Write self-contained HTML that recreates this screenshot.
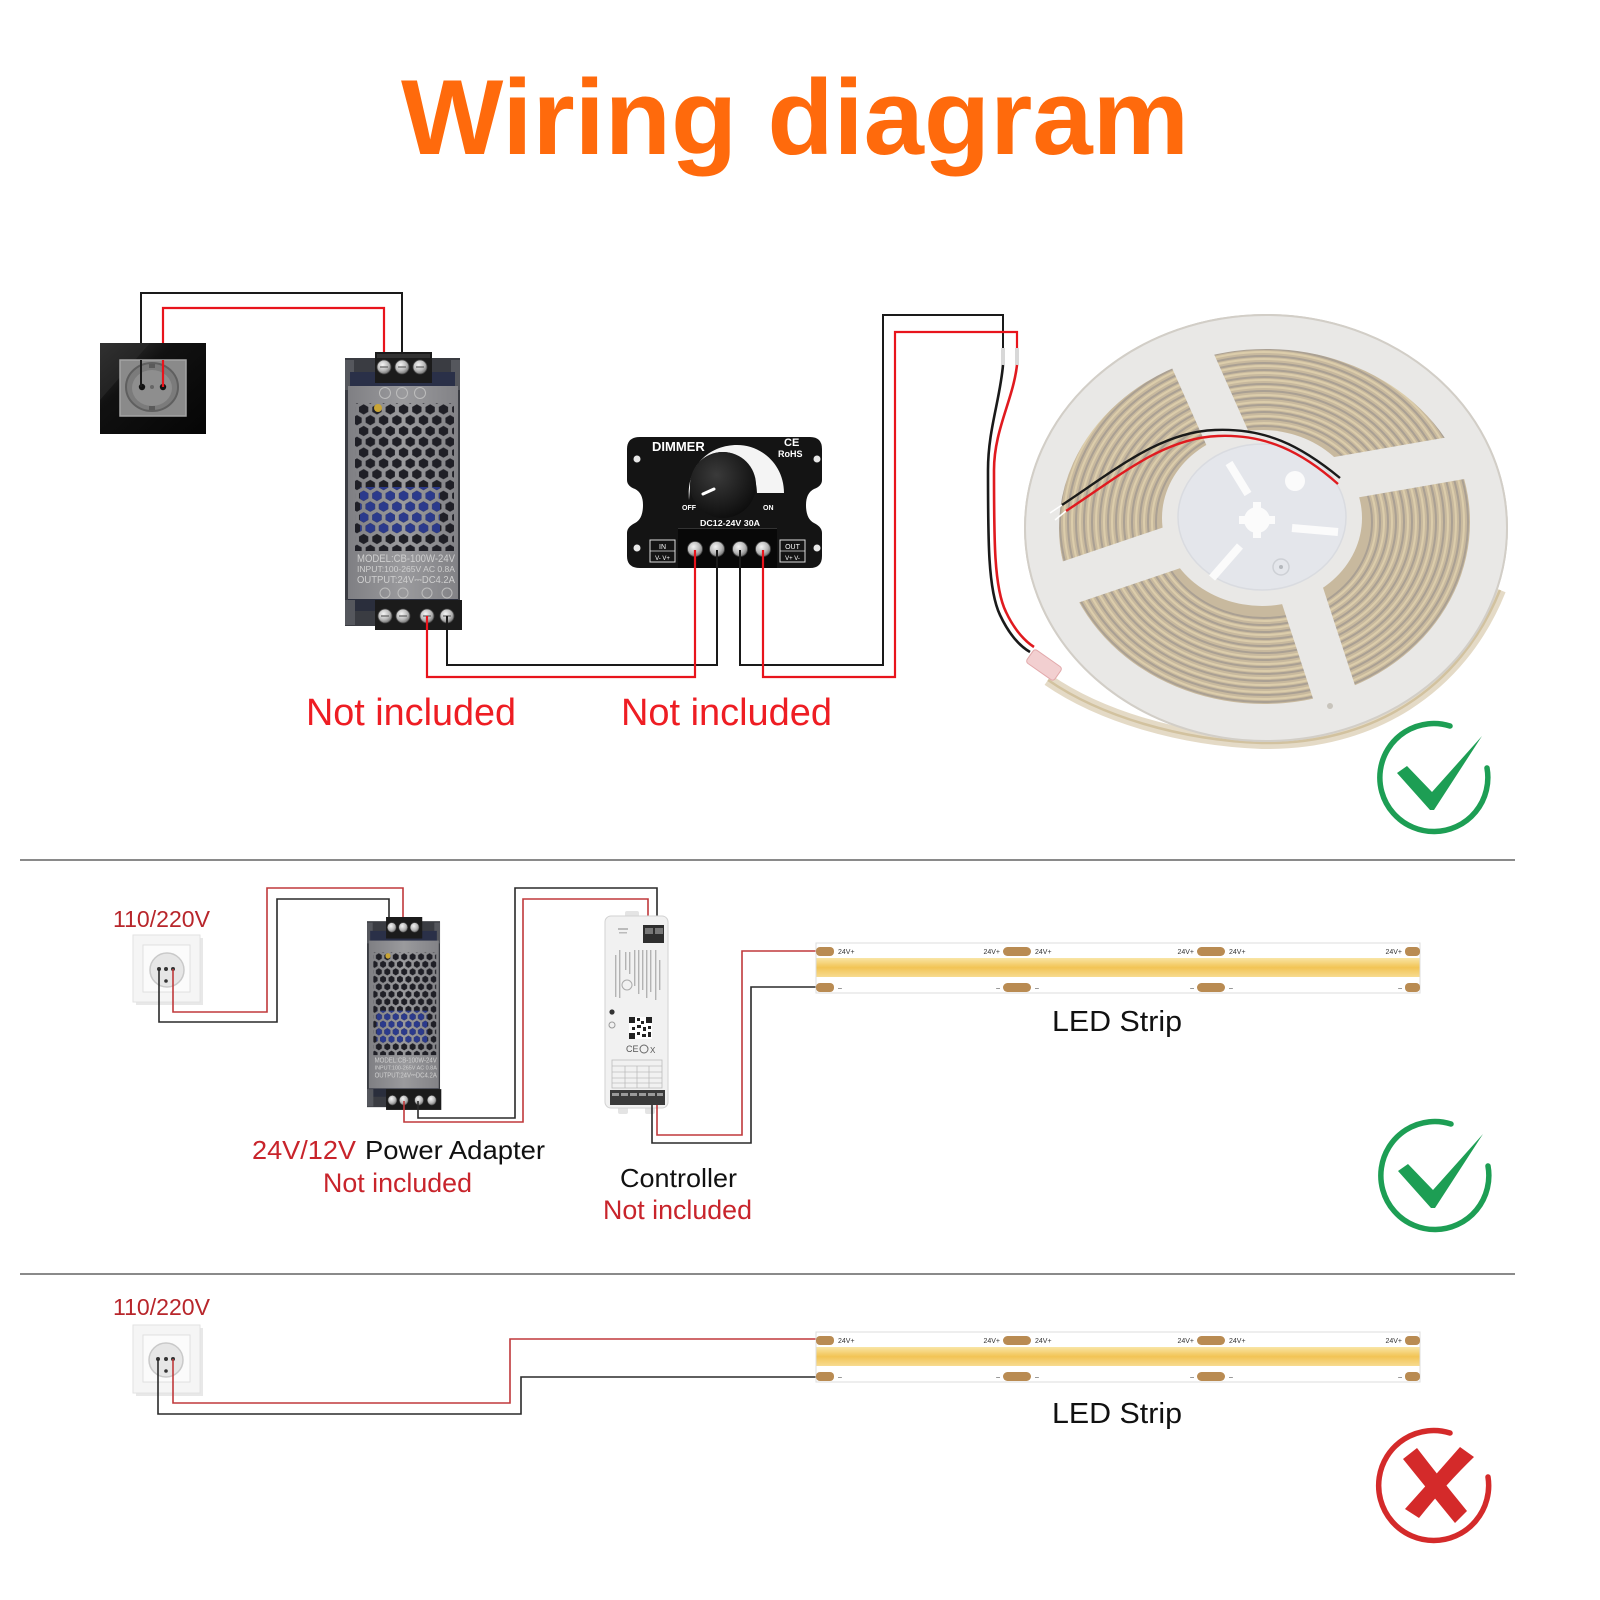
<!DOCTYPE html>
<html><head><meta charset="utf-8">
<style>
html,body{margin:0;padding:0;background:#fff;}
svg{display:block;}
text{font-family:"Liberation Sans",Arial,sans-serif;}
</style></head><body>
<svg width="1600" height="1600" viewBox="0 0 1600 1600" xmlns="http://www.w3.org/2000/svg">
<defs>
 <pattern id="hexD" patternUnits="userSpaceOnUse" x="357" y="404" width="13.3" height="21.6">
  <polygon points="6.65,0.2 11.3,2.9 11.3,7.9 6.65,10.6 2,7.9 2,2.9" fill="#1f1f26"/>
  <polygon points="0,11 4.65,13.7 4.65,18.7 0,21.4 -4.65,18.7 -4.65,13.7" fill="#1f1f26"/>
  <polygon points="13.3,11 17.95,13.7 17.95,18.7 13.3,21.4 8.65,18.7 8.65,13.7" fill="#1f1f26"/>
 </pattern>
 <pattern id="hexB" patternUnits="userSpaceOnUse" x="357" y="404" width="13.3" height="21.6">
  <polygon points="6.65,0.2 11.3,2.9 11.3,7.9 6.65,10.6 2,7.9 2,2.9" fill="#2b3a8c"/>
  <polygon points="0,11 4.65,13.7 4.65,18.7 0,21.4 -4.65,18.7 -4.65,13.7" fill="#2b3a8c"/>
  <polygon points="13.3,11 17.95,13.7 17.95,18.7 13.3,21.4 8.65,18.7 8.65,13.7" fill="#2b3a8c"/>
 </pattern>
 <radialGradient id="screw" cx="0.4" cy="0.35" r="0.7">
  <stop offset="0" stop-color="#f4f4f4"/><stop offset="0.6" stop-color="#b8b8b8"/><stop offset="1" stop-color="#6a6a6a"/>
 </radialGradient>
 <linearGradient id="plate" x1="0" y1="0" x2="1" y2="0">
  <stop offset="0" stop-color="#7f7f83"/><stop offset="0.5" stop-color="#9a9a9d"/><stop offset="1" stop-color="#828286"/>
 </linearGradient>
 <linearGradient id="yel" x1="0" y1="0" x2="0" y2="1">
  <stop offset="0" stop-color="#f9e5a6"/><stop offset="0.5" stop-color="#f2c455"/><stop offset="1" stop-color="#f7db90"/>
 </linearGradient>
 <radialGradient id="knob" cx="0.4" cy="0.35" r="0.7">
  <stop offset="0" stop-color="#3a3a3a"/><stop offset="1" stop-color="#0c0c0c"/>
 </radialGradient>
 <linearGradient id="glass" x1="0" y1="0" x2="1" y2="1">
  <stop offset="0" stop-color="#3a3a3a"/><stop offset="0.35" stop-color="#111"/><stop offset="1" stop-color="#050505"/>
 </linearGradient>
 <clipPath id="reelclip"><ellipse cx="1266" cy="528" rx="241" ry="213"/></clipPath>
</defs>

<rect width="1600" height="1600" fill="#fff"/>

<!-- Title -->
<text x="401" y="154" font-size="107" font-weight="bold" fill="#ff6a0c" textLength="788" lengthAdjust="spacingAndGlyphs">Wiring diagram</text>

<!-- ================= SECTION 1 ================= -->
<path d="M141,387 V293 H402 V367" fill="none" stroke="#1a1a1a" stroke-width="2"/>
<path d="M163,387 V308 H384 V367" fill="none" stroke="#e8141c" stroke-width="2.2"/>

<rect x="100" y="343" width="106" height="91" fill="url(#glass)"/>
<polygon points="100,343 150,343 100,400" fill="#2c2c2c" opacity="0.6"/>
<rect x="120" y="360" width="66" height="56" fill="#8a8a8a" stroke="#a5a5a5" stroke-width="1.5"/>
<ellipse cx="152" cy="387" rx="26" ry="24" fill="#7b7b7b" stroke="#5f5f5f" stroke-width="2"/>
<ellipse cx="152" cy="388" rx="20" ry="18" fill="#8e8e8e"/>
<circle cx="142" cy="387" r="3.2" fill="#111"/>
<circle cx="163" cy="387" r="3.2" fill="#111"/>
<circle cx="152" cy="387" r="2" fill="#666"/>
<rect x="149" y="364" width="6" height="4" fill="#5a5a5a"/>
<rect x="149" y="406" width="6" height="4" fill="#5a5a5a"/>
<path d="M141,387 V360" stroke="#1a1a1a" stroke-width="2"/>
<path d="M163,387 V360" stroke="#e8141c" stroke-width="2.2"/>

<!-- PSU 1 -->
<g>
 <rect x="345" y="358" width="115" height="268" fill="#3a3c42"/>
 <rect x="345" y="360" width="9" height="30" fill="#55575d"/>
 <rect x="451" y="360" width="9" height="30" fill="#55575d"/>
 <rect x="350" y="372" width="105" height="16" fill="#2a3048"/>
 <rect x="375" y="352" width="57" height="31" fill="#1b1b1b"/>
 <rect x="377" y="354" width="53" height="4" fill="#333"/>
 <circle cx="384" cy="367" r="7" fill="url(#screw)" stroke="#444" stroke-width="0.8"/>
 <circle cx="402" cy="367" r="7" fill="url(#screw)" stroke="#444" stroke-width="0.8"/>
 <circle cx="420" cy="367" r="7" fill="url(#screw)" stroke="#444" stroke-width="0.8"/>
 <path d="M380,367 h8 M398,367 h8 M416,367 h8" stroke="#666" stroke-width="1.2"/>
 <rect x="348" y="386" width="110" height="214" fill="url(#plate)"/>
 <circle cx="385" cy="393" r="5.5" fill="none" stroke="#bdbdbd" stroke-width="1"/>
 <circle cx="402" cy="393" r="5.5" fill="none" stroke="#bdbdbd" stroke-width="1"/>
 <circle cx="420" cy="393" r="5.5" fill="none" stroke="#bdbdbd" stroke-width="1"/>
 <rect x="355" y="403" width="99" height="148" fill="url(#hexD)"/>
 <rect x="360" y="487" width="80" height="46" fill="url(#hexB)"/>
 <circle cx="378" cy="408" r="4" fill="#c9a536"/>
 <text x="357" y="562" font-size="11" fill="#cfcfcf" textLength="98" lengthAdjust="spacingAndGlyphs">MODEL:CB-100W-24V</text>
 <text x="357" y="572" font-size="8" fill="#cfcfcf" textLength="98" lengthAdjust="spacingAndGlyphs">INPUT:100-265V AC 0.8A</text>
 <text x="357" y="583" font-size="10" fill="#cfcfcf" textLength="98" lengthAdjust="spacingAndGlyphs">OUTPUT:24V⎓DC4.2A</text>
 <circle cx="385" cy="593" r="5" fill="none" stroke="#bdbdbd" stroke-width="1"/>
 <circle cx="403" cy="593" r="5" fill="none" stroke="#bdbdbd" stroke-width="1"/>
 <circle cx="427" cy="593" r="5" fill="none" stroke="#bdbdbd" stroke-width="1"/>
 <circle cx="447" cy="593" r="5" fill="none" stroke="#bdbdbd" stroke-width="1"/>
 <rect x="348" y="599" width="110" height="12" fill="#2a2e3c"/>
 <rect x="345" y="600" width="10" height="25" fill="#55575d"/>
 <rect x="375" y="600" width="87" height="30" fill="#1b1b1b"/>
 <circle cx="385" cy="616" r="7" fill="url(#screw)" stroke="#444" stroke-width="0.8"/>
 <circle cx="403" cy="616" r="7" fill="url(#screw)" stroke="#444" stroke-width="0.8"/>
 <circle cx="427" cy="616" r="7" fill="url(#screw)" stroke="#444" stroke-width="0.8"/>
 <circle cx="447" cy="616" r="7" fill="url(#screw)" stroke="#444" stroke-width="0.8"/>
 <path d="M381,616 h8 M399,616 h8 M423,616 h8 M443,616 h8" stroke="#666" stroke-width="1.2"/>
</g>

<path d="M447,616 V665 H717 V550" fill="none" stroke="#1a1a1a" stroke-width="2"/>
<path d="M427,616 V677 H695 V550" fill="none" stroke="#e8141c" stroke-width="2.2"/>
<path d="M740,550 V665 H883 V315 H1003 V350" fill="none" stroke="#1a1a1a" stroke-width="2"/>
<path d="M763,550 V677 H895 V332 H1017 V350" fill="none" stroke="#e8141c" stroke-width="2.2"/>

<!-- Dimmer -->
<path d="M640,437 H810 Q822,437 822,449 V480 Q822,486 814,489 Q806,493 806,505 Q806,519 814,523 Q822,527 822,533 V556 Q822,568 810,568 H640 Q627,568 627,556 V533 Q627,527 635,523 Q643,519 643,505 Q643,493 635,489 Q627,486 627,480 V449 Q627,437 640,437 Z" fill="#141414"/>
<circle cx="637" cy="459" r="3.5" fill="#e8e8e8"/>
<circle cx="637" cy="548" r="3.5" fill="#e8e8e8"/>
<circle cx="817" cy="459" r="3.5" fill="#e8e8e8"/>
<circle cx="817" cy="548" r="3.5" fill="#e8e8e8"/>
<text x="652" y="451" font-size="13" font-weight="bold" fill="#fff">DIMMER</text>
<text x="784" y="446" font-size="11" font-weight="bold" fill="#fff">CE</text>
<text x="778" y="457" font-size="9" font-weight="bold" fill="#fff">RoHS</text>
<path d="M689,500 C686,465 710,445 737,445 C762,445 784,465 784,493 L757,493 C757,472 742,452 723,452 C703,452 690,468 690,488 Z" fill="#f4f4f4"/>
<circle cx="723" cy="485" r="33" fill="url(#knob)"/>
<line x1="703" y1="494" x2="714" y2="489" stroke="#fff" stroke-width="3" stroke-linecap="round"/>
<text x="682" y="510" font-size="7" font-weight="bold" fill="#fff">OFF</text>
<text x="763" y="510" font-size="7" font-weight="bold" fill="#fff">ON</text>
<text x="700" y="526" font-size="8.5" font-weight="bold" fill="#fff" textLength="60" lengthAdjust="spacingAndGlyphs">DC12-24V 30A</text>
<rect x="678" y="528" width="99" height="40" fill="#080808"/>
<line x1="678" y1="528.5" x2="777" y2="528.5" stroke="#333" stroke-width="1"/>
<g stroke="#444" stroke-width="0.8">
 <circle cx="695" cy="549" r="7.5" fill="url(#screw)"/>
 <circle cx="717" cy="549" r="7.5" fill="url(#screw)"/>
 <circle cx="740" cy="549" r="7.5" fill="url(#screw)"/>
 <circle cx="763" cy="549" r="7.5" fill="url(#screw)"/>
</g>
<rect x="650" y="540" width="25" height="22" fill="none" stroke="#ddd" stroke-width="1"/>
<line x1="650" y1="551" x2="675" y2="551" stroke="#ddd" stroke-width="0.8"/>
<text x="662.5" y="549" font-size="7" fill="#fff" text-anchor="middle">IN</text>
<text x="662.5" y="560" font-size="6" fill="#fff" text-anchor="middle">V- V+</text>
<rect x="780" y="540" width="25" height="22" fill="none" stroke="#ddd" stroke-width="1"/>
<line x1="780" y1="551" x2="805" y2="551" stroke="#ddd" stroke-width="0.8"/>
<text x="792.5" y="549" font-size="7" fill="#fff" text-anchor="middle">OUT</text>
<text x="792.5" y="560" font-size="6" fill="#fff" text-anchor="middle">V+ V-</text>
<path d="M695,550 V568 M763,550 V568" stroke="#e8141c" stroke-width="2.2"/>
<path d="M717,550 V568 M740,550 V568" stroke="#1a1a1a" stroke-width="2"/>

<!-- Reel -->
<path d="M1048,680 C1100,716 1180,740 1262,743 C1370,745 1460,690 1500,590" fill="none" stroke="#e4dac6" stroke-width="12"/>
<path d="M1048,680 C1100,716 1180,740 1262,743 C1370,745 1460,690 1500,590" fill="none" stroke="#d2c29f" stroke-width="2.5"/>
<ellipse cx="1266" cy="528" rx="241" ry="213" fill="#e9e8e6" stroke="#d2cec7" stroke-width="2"/>
<g clip-path="url(#reelclip)">
 <ellipse cx="1264" cy="522" rx="206" ry="182" fill="#c8b99e"/>
 <g fill="none" stroke-width="2">
  <ellipse cx="1264" cy="522" rx="204" ry="180" stroke="#aaa093"/>
  <ellipse cx="1264" cy="522" rx="200" ry="177" stroke="#dccdab"/>
  <ellipse cx="1264" cy="522" rx="196" ry="173" stroke="#aaa093"/>
  <ellipse cx="1264" cy="522" rx="192" ry="170" stroke="#dccdab"/>
  <ellipse cx="1264" cy="522" rx="188" ry="166" stroke="#aaa093"/>
  <ellipse cx="1264" cy="522" rx="184" ry="163" stroke="#dccdab"/>
  <ellipse cx="1264" cy="522" rx="180" ry="159" stroke="#aaa093"/>
  <ellipse cx="1264" cy="522" rx="176" ry="156" stroke="#dccdab"/>
  <ellipse cx="1264" cy="522" rx="172" ry="152" stroke="#aaa093"/>
  <ellipse cx="1264" cy="522" rx="168" ry="149" stroke="#dccdab"/>
  <ellipse cx="1264" cy="522" rx="164" ry="145" stroke="#aaa093"/>
  <ellipse cx="1264" cy="522" rx="160" ry="142" stroke="#dccdab"/>
  <ellipse cx="1264" cy="522" rx="156" ry="138" stroke="#aaa093"/>
  <ellipse cx="1264" cy="522" rx="152" ry="135" stroke="#dccdab"/>
  <ellipse cx="1264" cy="522" rx="148" ry="131" stroke="#aaa093"/>
  <ellipse cx="1264" cy="522" rx="144" ry="127" stroke="#dccdab"/>
  <ellipse cx="1264" cy="522" rx="140" ry="124" stroke="#aaa093"/>
  <ellipse cx="1264" cy="522" rx="136" ry="120" stroke="#dccdab"/>
  <ellipse cx="1264" cy="522" rx="132" ry="117" stroke="#aaa093"/>
  <ellipse cx="1264" cy="522" rx="128" ry="113" stroke="#dccdab"/>
  <ellipse cx="1264" cy="522" rx="124" ry="110" stroke="#aaa093"/>
  <ellipse cx="1264" cy="522" rx="120" ry="106" stroke="#dccdab"/>
  <ellipse cx="1264" cy="522" rx="116" ry="103" stroke="#aaa093"/>
  <ellipse cx="1264" cy="522" rx="112" ry="99" stroke="#dccdab"/>
  <ellipse cx="1264" cy="522" rx="108" ry="96" stroke="#aaa093"/>
 </g>
 <ellipse cx="1262" cy="518" rx="100" ry="88" fill="#e9e8e6"/>
 <ellipse cx="1266" cy="528" rx="225" ry="197" fill="none" stroke="#e9e8e6" stroke-width="36"/>
 <g stroke="#e9e8e6" stroke-width="44" stroke-linecap="round">
  <line x1="1255" y1="500" x2="1168" y2="305"/>
  <line x1="1290" y1="487" x2="1520" y2="447"/>
  <line x1="1281" y1="530" x2="1353" y2="750"/>
  <line x1="1230" y1="528" x2="1000" y2="606"/>
 </g>
</g>
<ellipse cx="1266" cy="528" rx="241" ry="213" fill="none" stroke="#d2cec7" stroke-width="2"/>
<ellipse cx="1262" cy="517" rx="84" ry="73" fill="#e4e6eb" stroke="#d9dbe0" stroke-width="1.5"/>
<g stroke="#fbfbfb" stroke-width="8" stroke-linecap="butt">
 <line x1="1229" y1="463" x2="1248" y2="494"/>
 <line x1="1292" y1="528" x2="1338" y2="532"/>
 <line x1="1212" y1="578" x2="1240" y2="546"/>
</g>
<circle cx="1257" cy="520" r="13" fill="#fbfbfb"/>
<rect x="1253" y="502" width="8" height="36" fill="#fbfbfb"/>
<rect x="1239" y="516" width="36" height="8" fill="#fbfbfb"/>
<circle cx="1295" cy="481" r="10" fill="#fbfbfb"/>
<circle cx="1281" cy="567" r="8" fill="none" stroke="#cdd0d5" stroke-width="1.5"/>
<circle cx="1281" cy="567" r="2" fill="#b5b8bd"/>
<circle cx="1330" cy="706" r="3" fill="#c8c4bc"/>

<path d="M1062,505 C1115,470 1160,432 1215,430 C1265,428 1300,445 1340,478" fill="none" stroke="#1a1a1a" stroke-width="2.4"/>
<path d="M1066,511 C1118,477 1163,438 1218,436 C1266,434 1302,452 1338,484" fill="none" stroke="#e01a1f" stroke-width="2.4"/>
<line x1="1050" y1="513" x2="1062" y2="505" stroke="#fff" stroke-width="1.5"/>
<line x1="1055" y1="520" x2="1066" y2="511" stroke="#fff" stroke-width="1.5"/>

<rect x="1001" y="348" width="4" height="17" fill="#d8d8d8"/>
<rect x="1015" y="348" width="4" height="17" fill="#d8d8d8"/>
<path d="M1003,365 C1000,400 988,430 988,470 C988,540 988,590 1000,615 C1008,632 1018,645 1030,652" fill="none" stroke="#1a1a1a" stroke-width="2.6"/>
<path d="M1017,365 C1013,400 994,430 994,470 C994,540 994,588 1006,612 C1013,627 1023,640 1034,647" fill="none" stroke="#e01a1f" stroke-width="2.6"/>
<rect x="1027" y="657" width="34" height="16" rx="3" fill="#f2cfd0" stroke="#e2a9ab" stroke-width="1" transform="rotate(35 1044 665)"/>

<text x="306" y="725" font-size="38" fill="#ee1d23" textLength="210" lengthAdjust="spacingAndGlyphs">Not included</text>
<text x="621" y="725" font-size="38" fill="#ee1d23" textLength="211" lengthAdjust="spacingAndGlyphs">Not included</text>

<path d="M1487,768 A54 54 0 1 1 1450,726" fill="none" stroke="#1d9e54" stroke-width="5.5" stroke-linecap="round"/>
<polygon points="1397,773 1407,766 1432,792 1482,736 1434,810 1430,810" fill="#1d9e54"/>

<line x1="20" y1="860" x2="1515" y2="860" stroke="#8a8a8a" stroke-width="2"/>
<line x1="20" y1="1274" x2="1515" y2="1274" stroke="#8a8a8a" stroke-width="2"/>

<!-- ================= SECTION 2 ================= -->
<text x="113" y="927" font-size="23" fill="#b8262b" textLength="97" lengthAdjust="spacingAndGlyphs">110/220V</text>
<rect x="136" y="938" width="67" height="67" fill="#d9d9d9" opacity="0.6"/>
<rect x="133" y="935" width="67" height="67" fill="#f5f5f5" stroke="#e2e2e2" stroke-width="1"/>
<rect x="143" y="945" width="47" height="47" fill="#fbfbfb" stroke="#e0e0e0" stroke-width="1"/>
<circle cx="167" cy="970" r="17" fill="#e6e6e6" stroke="#c9c9c9" stroke-width="1.5"/>
<circle cx="159" cy="969" r="2" fill="#333"/>
<circle cx="166" cy="969" r="2" fill="#333"/>
<circle cx="173" cy="969" r="2" fill="#333"/>
<circle cx="166" cy="981" r="1.8" fill="#333"/>

<path d="M159,969 V1022 H277 V899 H389 V927" fill="none" stroke="#2a2a2a" stroke-width="1.6"/>
<path d="M173,969 V1012 H267 V888 H403 V927" fill="none" stroke="#c0393b" stroke-width="1.6"/>

<g transform="translate(367,917) scale(0.635,0.694) translate(-345,-352)">
 <rect x="345" y="358" width="115" height="268" fill="#3a3c42"/>
 <rect x="345" y="360" width="9" height="30" fill="#55575d"/>
 <rect x="451" y="360" width="9" height="30" fill="#55575d"/>
 <rect x="350" y="372" width="105" height="16" fill="#2a3048"/>
 <rect x="375" y="352" width="57" height="31" fill="#1b1b1b"/>
 <circle cx="384" cy="367" r="7" fill="url(#screw)" stroke="#444" stroke-width="0.8"/>
 <circle cx="402" cy="367" r="7" fill="url(#screw)" stroke="#444" stroke-width="0.8"/>
 <circle cx="420" cy="367" r="7" fill="url(#screw)" stroke="#444" stroke-width="0.8"/>
 <rect x="348" y="386" width="110" height="214" fill="url(#plate)"/>
 <rect x="355" y="403" width="99" height="148" fill="url(#hexD)"/>
 <rect x="360" y="487" width="80" height="46" fill="url(#hexB)"/>
 <circle cx="378" cy="408" r="4" fill="#c9a536"/>
 <text x="357" y="562" font-size="11" fill="#cfcfcf" textLength="98" lengthAdjust="spacingAndGlyphs">MODEL:CB-100W-24V</text>
 <text x="357" y="572" font-size="8" fill="#cfcfcf" textLength="98" lengthAdjust="spacingAndGlyphs">INPUT:100-265V AC 0.8A</text>
 <text x="357" y="583" font-size="10" fill="#cfcfcf" textLength="98" lengthAdjust="spacingAndGlyphs">OUTPUT:24V⎓DC4.2A</text>
 <rect x="348" y="599" width="110" height="12" fill="#2a2e3c"/>
 <rect x="345" y="600" width="10" height="25" fill="#55575d"/>
 <rect x="375" y="600" width="87" height="30" fill="#1b1b1b"/>
 <circle cx="385" cy="616" r="7" fill="url(#screw)" stroke="#444" stroke-width="0.8"/>
 <circle cx="403" cy="616" r="7" fill="url(#screw)" stroke="#444" stroke-width="0.8"/>
 <circle cx="427" cy="616" r="7" fill="url(#screw)" stroke="#444" stroke-width="0.8"/>
 <circle cx="447" cy="616" r="7" fill="url(#screw)" stroke="#444" stroke-width="0.8"/>
</g>

<path d="M418,1101 V1118 H515 V888 H657 V930" fill="none" stroke="#2a2a2a" stroke-width="1.6"/>
<path d="M404,1101 V1122 H523 V899 H648 V930" fill="none" stroke="#c0393b" stroke-width="1.6"/>

<!-- Controller -->
<rect x="625" y="911" width="14" height="8" rx="2" fill="#e4e4e4"/>
<rect x="618" y="1105" width="10" height="9" rx="2" fill="#e4e4e4"/>
<rect x="645" y="1105" width="10" height="9" rx="2" fill="#e4e4e4"/>
<rect x="605" y="916" width="63" height="192" rx="6" fill="#f1f1f1" stroke="#d2d2d2" stroke-width="1"/>
<rect x="643" y="925" width="21" height="18" fill="#2e2e2e"/>
<rect x="645" y="928" width="8" height="6" fill="#777"/>
<rect x="655" y="928" width="8" height="6" fill="#777"/>
<rect x="618" y="928" width="10" height="2" fill="#bbb"/>
<rect x="619" y="932" width="8" height="1.5" fill="#bbb"/>
<g fill="#b3b3b3">
 <rect x="615" y="955" width="1.4" height="42"/>
 <rect x="619" y="950" width="1.4" height="48"/>
 <rect x="625" y="952" width="1.4" height="18"/>
 <rect x="629" y="952" width="1.4" height="22"/>
 <rect x="634" y="950" width="1.4" height="36"/>
 <rect x="638" y="950" width="1.4" height="44"/>
 <rect x="642" y="950" width="1.4" height="40"/>
 <rect x="646" y="950" width="1.4" height="48"/>
 <rect x="650" y="950" width="1.4" height="42"/>
 <rect x="655" y="950" width="1.4" height="50"/>
 <rect x="659" y="960" width="1.4" height="30"/>
</g>
<circle cx="627" cy="985" r="5" fill="none" stroke="#aaa" stroke-width="1"/>
<circle cx="612" cy="1012" r="2.6" fill="#333"/>
<circle cx="612" cy="1025" r="3" fill="none" stroke="#999" stroke-width="1"/>
<rect x="629" y="1017" width="23" height="22" fill="#fff"/>
<g fill="#222">
 <rect x="629" y="1017" width="6" height="6"/><rect x="646" y="1017" width="6" height="6"/><rect x="629" y="1033" width="6" height="6"/>
 <rect x="637" y="1018" width="3" height="3"/><rect x="641" y="1021" width="3" height="3"/><rect x="637" y="1025" width="4" height="3"/>
 <rect x="643" y="1027" width="3" height="4"/><rect x="648" y="1026" width="3" height="3"/><rect x="637" y="1032" width="3" height="3"/>
 <rect x="642" y="1034" width="4" height="3"/><rect x="648" y="1032" width="3" height="5"/><rect x="632" y="1027" width="3" height="3"/>
</g>
<text x="626" y="1052" font-size="9" fill="#555">CE</text>
<circle cx="644" cy="1049" r="4" fill="none" stroke="#666" stroke-width="1"/>
<text x="650" y="1053" font-size="8" fill="#555">X</text>
<g stroke="#bcbcbc" stroke-width="0.8">
 <rect x="612" y="1060" width="50" height="28" fill="none"/>
 <line x1="612" y1="1066" x2="662" y2="1066"/><line x1="612" y1="1072" x2="662" y2="1072"/>
 <line x1="612" y1="1078" x2="662" y2="1078"/><line x1="612" y1="1083" x2="662" y2="1083"/>
 <line x1="625" y1="1066" x2="625" y2="1088"/><line x1="637" y1="1066" x2="637" y2="1088"/><line x1="649" y1="1066" x2="649" y2="1088"/>
</g>
<rect x="610" y="1090" width="55" height="15" fill="#3a3a3a"/>
<g fill="#9a9a9a">
 <rect x="612" y="1093" width="7" height="3"/><rect x="621" y="1093" width="7" height="3"/><rect x="630" y="1093" width="7" height="3"/>
 <rect x="639" y="1093" width="7" height="3"/><rect x="648" y="1093" width="7" height="3"/><rect x="657" y="1093" width="6" height="3"/>
</g>

<path d="M652,1105 V1143 H751 V987 H816" fill="none" stroke="#2a2a2a" stroke-width="1.6"/>
<path d="M657,1105 V1135 H742 V951 H816" fill="none" stroke="#c0393b" stroke-width="1.6"/>

<!-- LED strip 2 -->
<g>
 <rect x="816" y="943" width="604" height="50" fill="#fff" stroke="#dcdcdc" stroke-width="1"/>
 <rect x="816.5" y="958" width="603" height="19" fill="url(#yel)"/>
 <g fill="#b98b52">
  <rect x="816" y="947" width="18" height="9" rx="4"/><rect x="1003" y="947" width="28" height="9" rx="4.5"/>
  <rect x="1197" y="947" width="28" height="9" rx="4.5"/><rect x="1405" y="947" width="15" height="9" rx="4"/>
  <rect x="816" y="983" width="18" height="9" rx="4"/><rect x="1003" y="983" width="28" height="9" rx="4.5"/>
  <rect x="1197" y="983" width="28" height="9" rx="4.5"/><rect x="1405" y="983" width="15" height="9" rx="4"/>
 </g>
 <g font-size="7" fill="#333">
  <text x="838" y="954">24V+</text><text x="1000" y="954" text-anchor="end">24V+</text>
  <text x="1035" y="954">24V+</text><text x="1194" y="954" text-anchor="end">24V+</text>
  <text x="1229" y="954">24V+</text><text x="1402" y="954" text-anchor="end">24V+</text>
  <text x="838" y="990">–</text><text x="1000" y="990" text-anchor="end">–</text>
  <text x="1035" y="990">–</text><text x="1194" y="990" text-anchor="end">–</text>
  <text x="1229" y="990">–</text><text x="1402" y="990" text-anchor="end">–</text>
 </g>
</g>
<text x="1052" y="1031" font-size="29" fill="#111" textLength="130" lengthAdjust="spacingAndGlyphs">LED Strip</text>

<text x="252" y="1159" font-size="26" fill="#c8242b" textLength="104" lengthAdjust="spacingAndGlyphs">24V/12V</text>
<text x="365" y="1159" font-size="26" fill="#111" textLength="180" lengthAdjust="spacingAndGlyphs">Power Adapter</text>
<text x="323" y="1192" font-size="27" fill="#c8242b" textLength="149" lengthAdjust="spacingAndGlyphs">Not included</text>
<text x="620" y="1187" font-size="26" fill="#111" textLength="117" lengthAdjust="spacingAndGlyphs">Controller</text>
<text x="603" y="1219" font-size="27" fill="#c8242b" textLength="149" lengthAdjust="spacingAndGlyphs">Not included</text>

<path d="M1488,1166 A54 54 0 1 1 1451,1124" fill="none" stroke="#1d9e54" stroke-width="5.5" stroke-linecap="round"/>
<polygon points="1398,1171 1408,1164 1433,1190 1483,1134 1435,1208 1431,1208" fill="#1d9e54"/>

<!-- ================= SECTION 3 ================= -->
<text x="113" y="1315" font-size="23" fill="#b8262b" textLength="97" lengthAdjust="spacingAndGlyphs">110/220V</text>
<rect x="136" y="1328" width="67" height="68" fill="#d9d9d9" opacity="0.6"/>
<rect x="133" y="1325" width="67" height="68" fill="#f5f5f5" stroke="#e2e2e2" stroke-width="1"/>
<rect x="143" y="1335" width="47" height="47" fill="#fbfbfb" stroke="#e0e0e0" stroke-width="1"/>
<circle cx="166" cy="1360" r="17" fill="#e6e6e6" stroke="#c9c9c9" stroke-width="1.5"/>
<circle cx="158" cy="1359" r="2" fill="#333"/>
<circle cx="166" cy="1359" r="2" fill="#333"/>
<circle cx="173" cy="1359" r="2" fill="#333"/>
<circle cx="166" cy="1371" r="1.8" fill="#333"/>

<path d="M158,1359 V1414 H521 V1377 H816" fill="none" stroke="#2a2a2a" stroke-width="1.6"/>
<path d="M173,1359 V1403 H510 V1339 H816" fill="none" stroke="#c0393b" stroke-width="1.6"/>

<g>
 <rect x="816" y="1332" width="604" height="50" fill="#fff" stroke="#dcdcdc" stroke-width="1"/>
 <rect x="816.5" y="1347" width="603" height="19" fill="url(#yel)"/>
 <g fill="#b98b52">
  <rect x="816" y="1336" width="18" height="9" rx="4"/><rect x="1003" y="1336" width="28" height="9" rx="4.5"/>
  <rect x="1197" y="1336" width="28" height="9" rx="4.5"/><rect x="1405" y="1336" width="15" height="9" rx="4"/>
  <rect x="816" y="1372" width="18" height="9" rx="4"/><rect x="1003" y="1372" width="28" height="9" rx="4.5"/>
  <rect x="1197" y="1372" width="28" height="9" rx="4.5"/><rect x="1405" y="1372" width="15" height="9" rx="4"/>
 </g>
 <g font-size="7" fill="#333">
  <text x="838" y="1343">24V+</text><text x="1000" y="1343" text-anchor="end">24V+</text>
  <text x="1035" y="1343">24V+</text><text x="1194" y="1343" text-anchor="end">24V+</text>
  <text x="1229" y="1343">24V+</text><text x="1402" y="1343" text-anchor="end">24V+</text>
  <text x="838" y="1379">–</text><text x="1000" y="1379" text-anchor="end">–</text>
  <text x="1035" y="1379">–</text><text x="1194" y="1379" text-anchor="end">–</text>
  <text x="1229" y="1379">–</text><text x="1402" y="1379" text-anchor="end">–</text>
 </g>
</g>
<text x="1052" y="1423" font-size="29" fill="#111" textLength="130" lengthAdjust="spacingAndGlyphs">LED Strip</text>

<path d="M1488,1477 A55 55 0 1 1 1450,1433" fill="none" stroke="#d42a2a" stroke-width="5.5" stroke-linecap="round"/>
<path d="M1403,1459 L1417,1448 Q1440,1478 1467,1511 L1455,1523 Q1428,1490 1403,1459 Z" fill="#d42a2a"/>
<path d="M1460,1447 L1474,1457 Q1447,1483 1419,1518 L1405,1509 Q1433,1478 1460,1447 Z" fill="#d42a2a"/>

</svg>
</body></html>
